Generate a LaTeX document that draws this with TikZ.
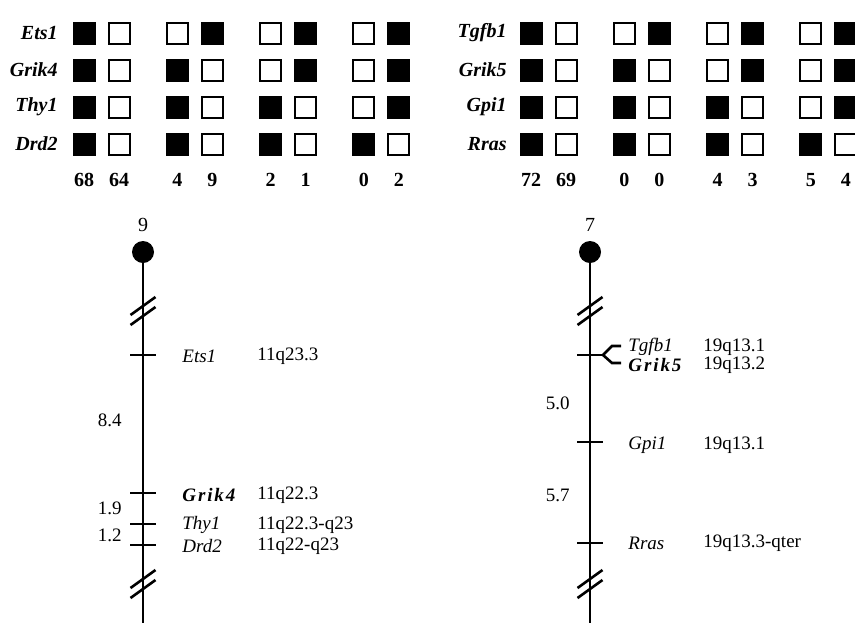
\documentclass[tikz,border=0pt]{standalone}
\usepackage{fontspec}
\setmainfont{Liberation Serif}
\usepackage{tikz}
\usetikzlibrary{positioning, calc}
\tikzset{
  boxfill/.style={draw, fill=black, line width=1pt, minimum size=10.5pt,
                  inner sep=0pt},
  boxopen/.style={boxfill, fill=white},
  rowlabel/.style={anchor=east, inner sep=0pt,
                   font=\fontsize{10}{12}\selectfont\bfseries\itshape},
  countlabel/.style={inner sep=0pt, font=\fontsize{10}{12}\selectfont\bfseries},
  chrom/.style={line width=1.3pt},
  centro/.style={circle, fill=black, minimum size=11pt, inner sep=0pt},
  chromno/.style={inner sep=0pt, font=\fontsize{10}{12}\selectfont},
  locus/.style={anchor=west, inner sep=0pt, font=\fontsize{9.5}{11}\selectfont\itshape},
  band/.style={anchor=west, inner sep=0pt, font=\fontsize{9.5}{11}\selectfont},
  dist/.style={anchor=east, inner sep=0pt, font=\fontsize{9.5}{11}\selectfont},
}
\newcommand\spacedname[1]{{\bfseries\addfontfeatures{LetterSpace=10}#1}}

\begin{document}
\begin{tikzpicture}[x=0.5pt, y=-0.5pt]
  \useasboundingbox (0,0) rectangle (855,623);

  % Haplotype grid, chromosome 9
  \foreach \gene [count=\r from 0] in {Ets1,Grik4,Thy1,Drd2}
    \node[rowlabel] (L-lab-\r) at (58,33+37*\r) {\gene};
  \foreach \g/\na/\nb [evaluate=\g as \xa using 84+93.3*\g] in {0/68/64, 1/4/9, 2/2/1, 3/0/2} {
    \foreach \r in {0,...,3} {
      \ifnum\r<\g \def\sa{boxopen}\def\sb{boxfill}\else \def\sa{boxfill}\def\sb{boxopen}\fi
      \node[\sa] (L-\g-\r-a) at (\xa,33+37*\r) {};
      \node[\sb] (L-\g-\r-b) at (\xa+35,33+37*\r) {};
    }
    \node[countlabel] (L-\g-na) at (\xa,180) {\na};
    \node[countlabel] (L-\g-nb) at (\xa+35,180) {\nb};
  }

  % Haplotype grid, chromosome 7
  \foreach \gene [count=\r from 0] in {Tgfb1,Grik5,Gpi1,Rras}
    \node[rowlabel] (R-lab-\r) at (507,33+37*\r) {\gene};
  \foreach \g/\na/\nb [evaluate=\g as \xa using 531+93.3*\g] in {0/72/69, 1/0/0, 2/4/3, 3/5/4} {
    \foreach \r in {0,...,3} {
      \ifnum\r<\g \def\sa{boxopen}\def\sb{boxfill}\else \def\sa{boxfill}\def\sb{boxopen}\fi
      \node[\sa] (R-\g-\r-a) at (\xa,33+37*\r) {};
      \node[\sb] (R-\g-\r-b) at (\xa+35,33+37*\r) {};
    }
    \node[countlabel] (R-\g-na) at (\xa,180) {\na};
    \node[countlabel] (R-\g-nb) at (\xa+35,180) {\nb};
  }

  % Chromosome 9
  \node[chromno] (c9) at (143,225) {9};
  \node[centro] (cen9) at (143,252) {};
  \coordinate (end9) at (143,623);
  \draw[chrom] (cen9.south) -- (end9);
  \coordinate (brk9a) at (143,311);
  \coordinate (brk9b) at (143,584);
  \coordinate (ets) at (143,355);
  \coordinate (grik4) at (143,493);
  \coordinate (thy) at (143,524);
  \coordinate (drd) at (143,545);
  \foreach \t in {ets, grik4, thy, drd}
    \draw[chrom] ($(\t)+(-13,0)$) -- ($(\t)+(13,0)$);
  \node[locus] (ets-name) at (182,356) {Ets1};
  \node[locus] (grik4-name) at (182,495) {\spacedname{Grik4}};
  \node[locus] (thy-name) at (182,525) {Thy1};
  \node[locus] (drd-name) at (182,546) {Drd2};
  \node[band] (ets-band) at (257,356) {11q23.3};
  \node[band] (grik4-band) at (257,495) {11q22.3};
  \node[band] (thy-band) at (257,525) {11q22.3-q23};
  \node[band] (drd-band) at (257,546) {11q22-q23};
  \node[dist] (d1) at (122,420) {8.4};
  \node[dist] (d2) at (122,508) {1.9};
  \node[dist] (d3) at (122,535) {1.2};

  % Chromosome 7
  \node[chromno] (c7) at (590,225) {7};
  \node[centro] (cen7) at (590,252) {};
  \coordinate (end7) at (590,623);
  \draw[chrom] (cen7.south) -- (end7);
  \coordinate (brk7a) at (590,311);
  \coordinate (brk7b) at (590,584);
  \coordinate (tgf) at (590,355);
  \coordinate (gpi) at (590,442);
  \coordinate (rras) at (590,543);
  \foreach \t in {tgf, gpi, rras}
    \draw[chrom] ($(\t)+(-13,0)$) -- ($(\t)+(13,0)$);
  \draw[chrom] ($(tgf)+(13,0)$) -- ($(tgf)+(22,-9)$) -- ($(tgf)+(31,-9)$);
  \draw[chrom] ($(tgf)+(13,0)$) -- ($(tgf)+(22,8)$) -- ($(tgf)+(31,8)$);
  \node[locus] (tgf-name) at (628,347) {Tgfb1};
  \node[locus] (grik5-name) at (628,365) {\spacedname{Grik5}};
  \node[locus] (gpi-name) at (628,445) {Gpi1};
  \node[locus] (rras-name) at (628,543) {Rras};
  \node[band] (tgf-band) at (703,347) {19q13.1};
  \node[band] (grik5-band) at (703,365) {19q13.2};
  \node[band] (gpi-band) at (703,445) {19q13.1};
  \node[band] (rras-band) at (703,543) {19q13.3-qter};
  \node[dist] (d4) at (570,403) {5.0};
  \node[dist] (d5) at (570,495) {5.7};

  % Breaks
  \foreach \b in {brk9a, brk9b, brk7a, brk7b} {
    \draw[chrom] ($(\b)+(-12.5,4)$) -- ($(\b)+(12.5,-14)$);
    \draw[chrom] ($(\b)+(-12.5,14)$) -- ($(\b)+(12.5,-4)$);
  }
\end{tikzpicture}
\end{document}
